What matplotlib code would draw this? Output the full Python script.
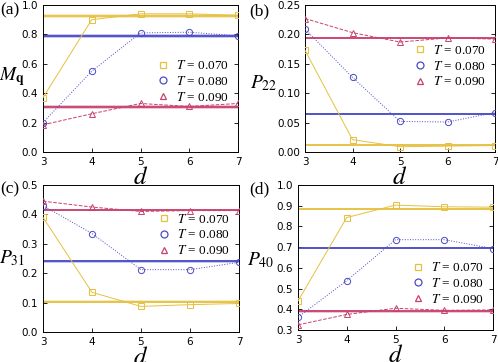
import matplotlib
matplotlib.use("Agg")
import matplotlib.pyplot as plt
import numpy as np

plt.rcParams["mathtext.fontset"] = "stix"

d = [3, 4, 5, 6, 7]
temps = ["0.070", "0.080", "0.090"]

Mq = {"0.070": [0.37, 0.90, 0.94, 0.94, 0.93],
      "0.080": [0.20, 0.55, 0.81, 0.815, 0.79],
      "0.090": [0.185, 0.26, 0.33, 0.31, 0.33]}
Mq_band = {"0.070": 0.925, "0.080": 0.79, "0.090": 0.305}

P22 = {"0.070": [0.173, 0.021, 0.009, 0.010, 0.011],
       "0.080": [0.209, 0.127, 0.052, 0.051, 0.067],
       "0.090": [0.227, 0.203, 0.187, 0.194, 0.192]}
P22_band = {"0.070": 0.012, "0.080": 0.065, "0.090": 0.194}

P31 = {"0.070": [0.39, 0.135, 0.087, 0.093, 0.097],
       "0.080": [0.43, 0.335, 0.212, 0.212, 0.237],
       "0.090": [0.445, 0.425, 0.41, 0.413, 0.413]}
P31_band = {"0.070": 0.103, "0.080": 0.24, "0.090": 0.415}

P40 = {"0.070": [0.44, 0.843, 0.903, 0.895, 0.893],
       "0.080": [0.362, 0.538, 0.736, 0.736, 0.693],
       "0.090": [0.325, 0.375, 0.405, 0.395, 0.397]}
P40_band = {"0.070": 0.885, "0.080": 0.695, "0.090": 0.39}

colors = {"0.070": "#e6c040", "0.080": "#4a4ac8", "0.090": "#c8406e"}
markers = {"0.070": "s", "0.080": "o", "0.090": "^"}
lstyles = {"0.070": "-", "0.080": ":", "0.090": "--"}

fig = plt.figure(figsize=(4.98, 3.62), dpi=100)
W, H = 498, 362
panels = [
    ("(a)", Mq, Mq_band, (0, 1.0), 0.2, "%.1f", r"$M_{\mathbf{q}}$", (43, 5, 238, 152),
     0.015, (-0.16, 0.51), (0, 10), 0.48),
    ("(b)", P22, P22_band, (0, 0.25), 0.05, "%.2f", r"$P_{22}$", (305, 5, 495, 152),
     0.002, (-0.22, 0.47), (249, 11), 0.585),
    ("(c)", P31, P31_band, (0, 0.5), 0.1, "%.1f", r"$P_{31}$", (43, 185, 239, 332),
     0.005, (-0.16, 0.50), (0, 189), 0.66),
    ("(d)", P40, P40_band, (0.3, 1.0), 0.1, "%.1f", r"$P_{40}$", (298, 185, 493, 330),
     0.006, (-0.19, 0.48), (249, 189), 0.32),
]

for lab, data, band, ylim, step, fmt, ylab, (l, t, r, b), bw, ylc, labpos, legy in panels:
    ax = fig.add_axes([l / W, 1 - b / H, (r - l) / W, (b - t) / H])
    for T in temps:
        c = colors[T]
        ax.axhspan(band[T] - bw, band[T] + bw, color=c, alpha=0.3, lw=0, zorder=1)
        ax.axhline(band[T], color=c, lw=1.3, zorder=2)
        ax.plot(d, data[T], color=c, ls=lstyles[T], lw=0.7, marker=markers[T],
                mfc="none", mec=c, ms=4.5, mew=0.7, zorder=3,
                label=r"$T$ = " + T)
    ax.set_xlim(3, 7)
    ax.set_ylim(*ylim)
    ax.set_xticks(d)
    ax.set_yticks(np.arange(ylim[0], ylim[1] + 1e-9, step))
    ax.yaxis.set_major_formatter(matplotlib.ticker.FormatStrFormatter(fmt))
    ax.tick_params(labelsize=7.5, length=3, direction="in", width=0.6, right=True, top=False)
    for s in ax.spines.values():
        s.set_linewidth(0.7)
    ax.set_xlabel(r"$d$", fontsize=18, labelpad=-1)
    ax.set_ylabel(ylab, fontsize=14, rotation=0, va="center", ha="center")
    ax.yaxis.set_label_coords(*ylc)
    fig.text(labpos[0] / W, 1 - labpos[1] / H, lab, fontsize=12.5, family="Liberation Serif",
             va="center", ha="left")
    leg = ax.legend(loc="center right", bbox_to_anchor=(1.0, legy), frameon=False,
                    prop={"family": "Liberation Serif", "size": 9.5},
                    handlelength=0.8, handletextpad=0.6, labelspacing=0.2,
                    borderaxespad=0.3)
    for h in leg.legend_handles:
        h.set_linestyle("none")
        h.set_markersize(5)
        h.set_markeredgewidth(0.9)

fig.savefig("out.png", dpi=100)
